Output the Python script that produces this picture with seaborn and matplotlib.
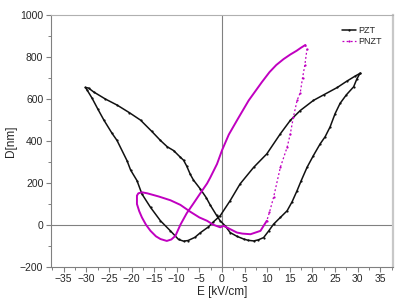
import numpy as np
import pandas as pd
import matplotlib
matplotlib.use("Agg")
import matplotlib.pyplot as plt
from matplotlib.ticker import MultipleLocator
import seaborn as sns

# PZT butterfly loop (E in kV/cm, D in nm), points in loop order
pzt_E = [30.5, 29.8, 29.1, 27.5, 26.1, 25.0, 23.9, 22.8, 21.7, 20.2, 18.8, 17.5, 16.6, 15.5,
         14.4, 12.9, 11.4, 10.3, 9.2, 8.0, 7.0, 5.8, 4.8, 3.3, 1.8, 0.7, -0.4, -1.2, -2.6,
         -3.5, -4.8, -6.3, -7.0, -7.8, -8.5, -9.2, -10.7, -12.1, -13.6, -15.5, -18.0, -20.5,
         -23.2, -25.8, -28.4, -29.5, -30.2,
         -29.8, -28.7, -27.4, -26.1, -24.3, -23.2, -21.0, -20.2, -18.8, -17.7, -15.8, -13.6,
         -11.4, -9.6, -8.5, -7.5, -6.0, -4.8, -3.0, -1.9, -0.4, 1.8, 4.0, 7.0, 9.9, 12.9,
         15.1, 17.3, 20.2, 22.5, 25.5, 27.6, 29.5, 30.5]
pzt_D = [722, 695, 658, 620, 579, 530, 467, 420, 386, 330, 274, 210, 163, 110,
         67, 35, 3, -30, -61, -72, -77, -74, -68, -55, -37, -5, 19, 45, 94,
         130, 171, 213, 240, 280, 308, 322, 354, 372, 402, 445, 499, 535,
         571, 600, 634, 652, 655,
         642, 603, 550, 499, 436, 402, 306, 261, 211, 147, 83, 19,
         -29, -70, -78, -75, -60, -38, -10, 14, 43, 115, 195, 274, 338, 434,
         498, 545, 593, 620, 655, 685, 710, 722]

# PNZT loop
pnzt_E = [18.4, 18.8, 18.3, 17.8, 17.3, 16.6, 15.8, 15.1, 14.4, 12.9, 11.4, 10.5, 9.9,
          8.5, 6.3, 4.5, 3.3, 1.1, 0.4, -0.4, -1.9, -3.3, -5.0, -7.0, -9.2, -11.4, -14.0,
          -16.5, -17.7, -18.5, -18.8, -18.8, -18.3, -17.7, -16.8, -15.8, -14.6, -13.6,
          -12.2, -11.2, -10.3, -9.2, -7.8, -6.3, -4.8, -3.3, -2.6, -1.1, 0.0, 1.5, 3.5,
          5.9, 8.8, 10.5, 12.0, 13.6, 15.1, 16.5, 17.5, 18.4]
pnzt_D = [857, 840, 760, 700, 630, 593, 515, 434, 370, 274, 131, 60, 19,
          -29, -45, -42, -37, -13, -5, -12, 0, 19, 35, 62, 95, 117, 135,
          150, 155, 150, 139, 99, 65, 35, 0, -29, -55, -68,
          -77, -70, -53, 0, 55, 102, 150, 197, 225, 290, 355, 430, 505,
          593, 680, 728, 762, 790, 812, 830, 845, 857]

x_ticks = list(range(-35, 40, 5))
y_ticks = list(range(-200, 1200, 200))

pzt = pd.DataFrame({"E": pzt_E, "D": pzt_D})
pnzt = pd.DataFrame({"E": pnzt_E, "D": pnzt_D})

sns.set_style("ticks")
plt.rcParams["font.family"] = ["Liberation Sans", "DejaVu Sans"]

fig = plt.figure(figsize=(4.07, 3.08), dpi=100)
ax = fig.add_axes([0.1253, 0.134, 0.8403, 0.817])

ax.axhline(0, color="#808080", lw=0.8, zorder=1)
ax.axvline(0, color="#808080", lw=0.8, zorder=1)

sns.lineplot(data=pzt, x="E", y="D", sort=False, estimator=None, color="#111111",
             lw=1.1, marker="o", markersize=1.6, markeredgewidth=0, label="PZT", ax=ax)
# steep right branch of PNZT is sparse (dotted), the rest is dense
sns.lineplot(data=pnzt.iloc[:13], x="E", y="D", sort=False, estimator=None, color="#C000C0",
             lw=0.9, linestyle=(0, (1.5, 1.8)), marker="o", markersize=1.6, markeredgewidth=0,
             label="PNZT", ax=ax)
sns.lineplot(data=pnzt.iloc[12:], x="E", y="D", sort=False, estimator=None, color="#C000C0",
             lw=1.4, ax=ax)

ax.set_xlim(-37.8, 37.8)
ax.set_ylim(-200, 1000)
ax.set_xticks(x_ticks)
ax.set_yticks(y_ticks)
ax.xaxis.set_minor_locator(MultipleLocator(2.5))
ax.yaxis.set_minor_locator(MultipleLocator(100))
ax.tick_params(which="major", direction="out", length=3.5, width=0.8, color="#808080",
               labelsize=7.5, pad=2)
ax.tick_params(which="minor", direction="out", length=2, width=0.7, color="#808080")

for side in ["left", "bottom"]:
    ax.spines[side].set_color("#808080")
    ax.spines[side].set_linewidth(0.8)
ax.spines["top"].set_color("#b0b0b0")
ax.spines["top"].set_linewidth(0.8)
ax.spines["right"].set_color("#c8c8c8")
ax.spines["right"].set_linewidth(1.6)

ax.set_xlabel("E [kV/cm]", fontsize=8.5, labelpad=1)
ax.set_ylabel("D[nm]", fontsize=8.5, labelpad=2)

ax.legend(loc="upper right", frameon=False, fontsize=6.5, handlelength=1.6,
          handletextpad=0.3, labelspacing=0.2, borderaxespad=0.8, numpoints=1)

fig.savefig("out.png", dpi=100)
